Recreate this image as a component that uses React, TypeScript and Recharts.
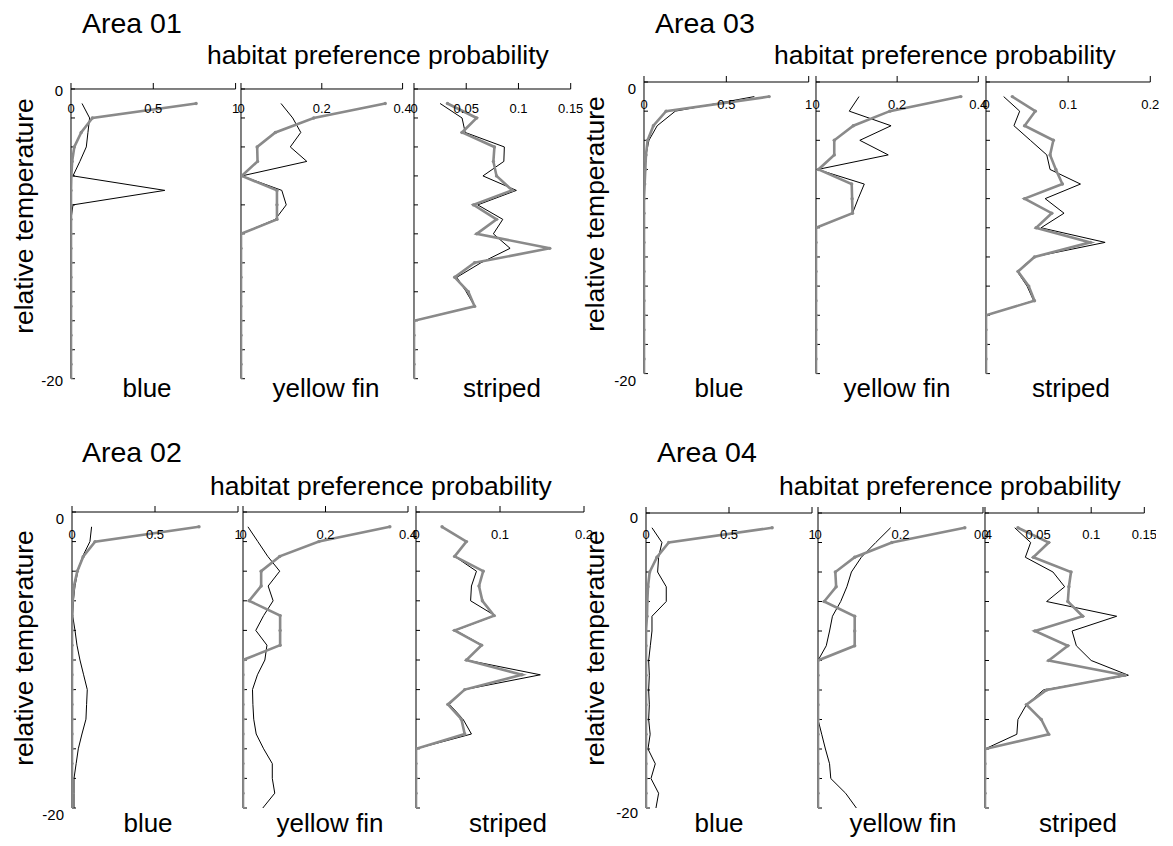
import React from 'react';
import { ScatterChart, Scatter, XAxis, YAxis } from 'recharts';

// ---------- data ----------
const DEPTHS = [-1, -2, -3, -4, -5, -6, -7, -8, -9, -10, -11, -12, -13, -14, -15, -16, -17, -18, -19, -20];
const DEPTH_TICKS = [0, -2, -4, -6, -8, -10, -12, -14, -16, -18, -20];
const DEPTH_LABELS = [0, -20];

const BLUE_TICKS = [0, 0.5, 1];
const YELLOW_TICKS = [0, 0.2, 0.4];
const STRIPED_TICKS_FINE = [0, 0.05, 0.1, 0.15];
const STRIPED_TICKS_COARSE = [0, 0.1, 0.2];

const AREA_TITLES = ['Area 01', 'Area 03', 'Area 02', 'Area 04'];
const SPECIES = ['blue', 'yellow fin', 'striped'];
const X_TITLE = 'habitat preference probability';
const Y_TITLE = 'relative temperature';

// Area 01
const a01BlueBlack = [0.067, 0.113, 0.103, 0.093, 0.054, 0.012, 0.57, 0.012, 0, 0, 0, 0, 0, 0, 0, 0, 0, 0, 0, 0];
const a01BlueGray = [0.76, 0.13, 0.062, 0.02, 0.007, 0.002, 0, 0, 0, 0, 0, 0, 0, 0, 0, 0, 0, 0, 0, 0];
const a01YellowBlack = [0.099, 0.128, 0.148, 0.122, 0.163, 0.002, 0.101, 0.112, 0.085, 0, 0, 0, 0, 0, 0, 0, 0, 0, 0, 0];
const a01YellowGray = [0.357, 0.18, 0.085, 0.04, 0.041, 0.002, 0.089, 0.089, 0.089, 0, 0, 0, 0, 0, 0, 0, 0, 0, 0, 0];
const a01StripedBlack = [0.025, 0.046, 0.049, 0.0865, 0.086, 0.066, 0.098, 0.061, 0.085, 0.076, 0.092, 0.064, 0.041, 0.05, 0.058, 0, 0, 0, 0, 0];
const a01StripedGray = [0.032, 0.06, 0.046, 0.077, 0.076, 0.079, 0.094, 0.057, 0.079, 0.06, 0.13, 0.058, 0.039, 0.052, 0.058, 0, 0, 0, 0, 0];

// Area 03
const a03BlueBlack = [0.67, 0.19, 0.08, 0.03, 0.012, 0.005, 0, 0, 0, 0, 0, 0, 0, 0, 0, 0, 0, 0, 0, 0];
const a03BlueGray = [0.76, 0.134, 0.057, 0.022, 0.012, 0.008, 0.004, 0, 0, 0, 0, 0, 0, 0, 0, 0, 0, 0, 0, 0];
const a03YellowBlack = [0.106, 0.082, 0.185, 0.108, 0.178, 0.004, 0.119, 0.104, 0.09, 0, 0, 0, 0, 0, 0, 0, 0, 0, 0, 0];
const a03YellowGray = [0.357, 0.182, 0.092, 0.045, 0.045, 0.006, 0.088, 0.089, 0.09, 0, 0, 0, 0, 0, 0, 0, 0, 0, 0, 0];
const a03StripedBlack = [0.0215, 0.041, 0.034, 0.054, 0.074, 0.078, 0.115, 0.072, 0.095, 0.067, 0.145, 0.058, 0.038, 0.05, 0.058, 0, 0, 0, 0, 0];
const a03StripedGray = [0.032, 0.06, 0.047, 0.082, 0.078, 0.085, 0.093, 0.047, 0.08, 0.061, 0.127, 0.059, 0.039, 0.052, 0.059, 0, 0, 0, 0, 0];

// Area 02
const a02BlueBlack = [0.118, 0.108, 0.064, 0.035, 0.018, 0.008, 0.004, 0.018, 0.03, 0.048, 0.07, 0.092, 0.088, 0.084, 0.06, 0.038, 0.025, 0.012, 0.012, 0.012];
const a02BlueGray = [0.765, 0.139, 0.068, 0.032, 0.012, 0.004, 0, 0, 0, 0, 0, 0, 0, 0, 0, 0, 0, 0, 0, 0];
const a02YellowBlack = [0.012, 0.036, 0.06, 0.089, 0.061, 0.073, 0.05, 0.031, 0.058, 0.053, 0.035, 0.023, 0.024, 0.026, 0.032, 0.05, 0.071, 0.071, 0.077, 0.048];
const a02YellowGray = [0.356, 0.184, 0.089, 0.044, 0.044, 0.015, 0.09, 0.09, 0.09, 0, 0, 0, 0, 0, 0, 0, 0, 0, 0, 0];
const a02StripedBlack = [0.031, 0.06, 0.046, 0.072, 0.066, 0.065, 0.094, 0.047, 0.079, 0.06, 0.148, 0.058, 0.04, 0.056, 0.066, 0, 0, 0, 0, 0];
const a02StripedGray = [0.031, 0.06, 0.046, 0.08, 0.075, 0.079, 0.093, 0.046, 0.078, 0.06, 0.126, 0.058, 0.038, 0.054, 0.058, 0, 0, 0, 0, 0];

// Area 04
const a04BlueBlack = [0.036, 0.096, 0.076, 0.07, 0.122, 0.122, 0.036, 0.036, 0.026, 0.016, 0.02, 0.016, 0.02, 0.016, 0.025, 0.012, 0.056, 0.03, 0.076, 0.06];
const a04BlueGray = [0.76, 0.137, 0.066, 0.022, 0.012, 0.008, 0.006, 0, 0, 0, 0, 0, 0, 0, 0, 0, 0, 0, 0, 0];
const a04YellowBlack = [0.176, 0.14, 0.105, 0.081, 0.07, 0.055, 0.035, 0.028, 0.02, 0, 0, 0, 0, 0, 0.009, 0.018, 0.028, 0.031, 0.067, 0.093];
const a04YellowGray = [0.356, 0.179, 0.089, 0.042, 0.044, 0.015, 0.089, 0.089, 0.089, 0, 0, 0, 0, 0, 0, 0, 0, 0, 0, 0];
const a04StripedBlack = [0.028, 0.043, 0.038, 0.064, 0.075, 0.058, 0.124, 0.082, 0.086, 0.1, 0.135, 0.055, 0.039, 0.031, 0.03, 0, 0, 0, 0, 0];
const a04StripedGray = [0.031, 0.06, 0.0455, 0.081, 0.079, 0.078, 0.092, 0.047, 0.078, 0.06, 0.132, 0.058, 0.039, 0.053, 0.06, 0, 0, 0, 0, 0];

// ---------- layout / style ----------
const FONT = '"Liberation Sans", Arial, Helvetica, sans-serif';
const GRAY = '#8a8a8a';
// outer box around the plot area (axis boxes included)
const PAD = { top: 36, right: 12, bottom: 24, left: 46 };
const X_AXIS_H = 20;
const Y_AXIS_W = 20;
const CHART_MARGIN = { top: PAD.top - X_AXIS_H, right: PAD.right, bottom: PAD.bottom, left: PAD.left - Y_AXIS_W };

type PanelCfg = {
  title: string;
  top: number;
  bottom: number;
  xs: number[][];
  ticks: number[][];
  series: number[][][];
  titlePos: number[];
  xTitlePos: number[];
  yTitleX: number;
  yTitleY: number;
  speciesX: number[];
  speciesY: number;
  xLabDy: number;
  yLabDy: number;
};

const PANELS: PanelCfg[] = [
  {
    title: AREA_TITLES[0], top: 89.3, bottom: 379,
    xs: [[70.7, 235.3], [240.7, 402.3], [414, 570.7]],
    ticks: [BLUE_TICKS, YELLOW_TICKS, STRIPED_TICKS_FINE],
    series: [[a01BlueBlack, a01BlueGray], [a01YellowBlack, a01YellowGray], [a01StripedBlack, a01StripedGray]],
    titlePos: [82, 33], xTitlePos: [207, 64], yTitleX: 33, yTitleY: 216,
    speciesX: [147, 326, 502], speciesY: 397, xLabDy: 24, yLabDy: 2,
  },
  {
    title: AREA_TITLES[1], top: 81.7, bottom: 373.3,
    xs: [[644, 808.7], [816, 978.3], [985.7, 1150]],
    ticks: [BLUE_TICKS, YELLOW_TICKS, STRIPED_TICKS_COARSE],
    series: [[a03BlueBlack, a03BlueGray], [a03YellowBlack, a03YellowGray], [a03StripedBlack, a03StripedGray]],
    titlePos: [655, 33], xTitlePos: [774, 64], yTitleX: 604, yTitleY: 214,
    speciesX: [719, 897, 1071], speciesY: 397, xLabDy: 27, yLabDy: 7,
  },
  {
    title: AREA_TITLES[2], top: 512.3, bottom: 808.3,
    xs: [[72, 238], [243.3, 408.3], [416, 584]],
    ticks: [BLUE_TICKS, YELLOW_TICKS, STRIPED_TICKS_COARSE],
    series: [[a02BlueBlack, a02BlueGray], [a02YellowBlack, a02YellowGray], [a02StripedBlack, a02StripedGray]],
    titlePos: [82, 462], xTitlePos: [210, 495], yTitleX: 33, yTitleY: 648,
    speciesX: [148, 330, 508], speciesY: 832, xLabDy: 27, yLabDy: 7,
  },
  {
    title: AREA_TITLES[3], top: 513.3, bottom: 808.3,
    xs: [[645.7, 811.7], [818.3, 983.3], [985, 1144.3]],
    ticks: [BLUE_TICKS, YELLOW_TICKS, STRIPED_TICKS_FINE],
    series: [[a04BlueBlack, a04BlueGray], [a04YellowBlack, a04YellowGray], [a04StripedBlack, a04StripedGray]],
    titlePos: [657, 462], xTitlePos: [779, 495], yTitleX: 604, yTitleY: 648,
    speciesX: [719, 903, 1078], speciesY: 832, xLabDy: 26, yLabDy: 5,
  },
];

const toPoints = (vals: number[]) => DEPTHS.map((t, i) => ({ t, v: vals[i] }));

const makeXTick = (dy: number) => (props: any) => {
  const { x, payload } = props;
  return (
    <text x={x} y={PAD.top + dy} textAnchor="middle" fontSize={13} fontFamily={FONT} fill="#000">
      {String(payload.value)}
    </text>
  );
};

const makeYTick = (show: boolean, dy: number) => (props: any) => {
  const { y, payload } = props;
  if (!show || !DEPTH_LABELS.includes(payload.value)) return <g />;
  return (
    <text x={PAD.left - 8} y={y + 5 + dy} textAnchor="end" fontSize={15} fontFamily={FONT} fill="#000">
      {String(payload.value)}
    </text>
  );
};

const noShape = () => <g />;
const grayDot = (props: any) => <circle cx={props.cx} cy={props.cy} r={1.7} fill={GRAY} />;

function SubPlot({ x0, x1, top, bottom, ticks, black, gray, showY, xLabDy, yLabDy }: any) {
  const w = x1 - x0;
  const h = bottom - top;
  const max = ticks[ticks.length - 1];
  return (
    <div style={{ position: 'absolute', left: x0 - PAD.left, top: top - PAD.top }}>
      <ScatterChart width={w + PAD.left + PAD.right} height={h + PAD.top + PAD.bottom} margin={CHART_MARGIN}>
        <XAxis
          type="number"
          dataKey="v"
          orientation="top"
          domain={[0, max]}
          ticks={ticks}
          interval={0}
          height={X_AXIS_H}
          tickSize={6}
          allowDataOverflow
          axisLine={{ stroke: '#000', strokeWidth: 1 }}
          tickLine={{ stroke: '#000', strokeWidth: 1 }}
          tick={makeXTick(xLabDy)}
        />
        <YAxis
          type="number"
          dataKey="t"
          orientation="left"
          domain={[-20, 0]}
          ticks={DEPTH_TICKS}
          interval={0}
          width={Y_AXIS_W}
          tickSize={-4}
          allowDataOverflow
          axisLine={{ stroke: '#000', strokeWidth: 1 }}
          tickLine={{ stroke: '#000', strokeWidth: 1 }}
          tick={makeYTick(showY, yLabDy)}
        />
        <Scatter
          data={toPoints(black)}
          fill="#000"
          line={{ stroke: '#000', strokeWidth: 1 }}
          shape={noShape}
          isAnimationActive={false}
        />
        <Scatter
          data={toPoints(gray)}
          fill={GRAY}
          line={{ stroke: GRAY, strokeWidth: 2.6 }}
          shape={grayDot}
          isAnimationActive={false}
        />
      </ScatterChart>
    </div>
  );
}

export default function App() {
  return (
    <div style={{ position: 'absolute', left: 0, top: 0, width: 1173, height: 846, background: '#fff', fontFamily: FONT }}>
      {PANELS.map((p, pi) => (
        <React.Fragment key={pi}>
          {p.xs.map((xr, si) => (
            <SubPlot
              key={si}
              x0={xr[0]}
              x1={xr[1]}
              top={p.top}
              bottom={p.bottom}
              ticks={p.ticks[si]}
              black={p.series[si][0]}
              gray={p.series[si][1]}
              showY={si === 0}
              xLabDy={p.xLabDy}
              yLabDy={p.yLabDy}
            />
          ))}
        </React.Fragment>
      ))}
      <svg width={1173} height={846} style={{ position: 'absolute', left: 0, top: 0, pointerEvents: 'none' }}>
        {PANELS.map((p, pi) => (
          <g key={pi} fontFamily={FONT} fill="#000">
            <text x={p.titlePos[0]} y={p.titlePos[1]} fontSize={28.5}>{p.title}</text>
            <text x={p.xTitlePos[0]} y={p.xTitlePos[1]} fontSize={26.5}>{X_TITLE}</text>
            <text
              transform={`translate(${p.yTitleX},${p.yTitleY}) rotate(-90)`}
              textAnchor="middle"
              fontSize={26.5}
            >
              {Y_TITLE}
            </text>
            {SPECIES.map((s, si) => (
              <text key={si} x={p.speciesX[si]} y={p.speciesY} textAnchor="middle" fontSize={26}>{s}</text>
            ))}
          </g>
        ))}
      </svg>
    </div>
  );
}
